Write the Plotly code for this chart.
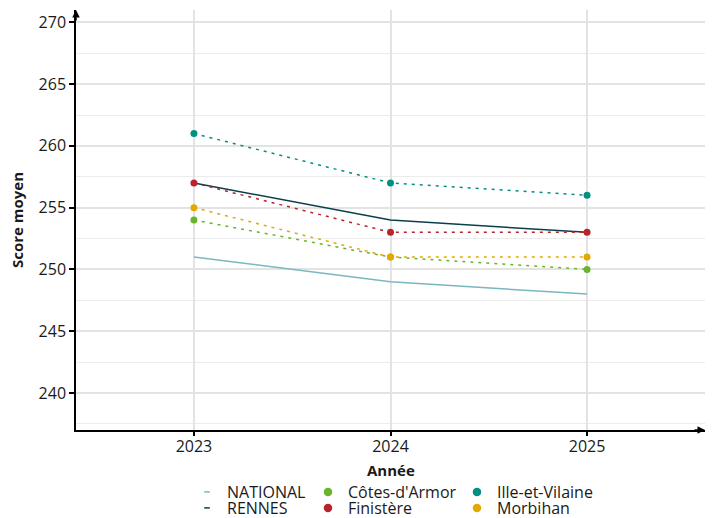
import plotly.graph_objects as go

years = [2023, 2024, 2025]
national = [251, 249, 248]
rennes = [257, 254, 253]
cotes_armor = [254, 251, 250]
finistere = [257, 253, 253]
ille_vilaine = [261, 257, 256]
morbihan = [255, 251, 251]

FONT = "Open Sans"
fig = go.Figure()

# (name, values, colour, dash, markers)
series = [
    ("NATIONAL", national, "#7ab7c0", "solid", False),
    ("RENNES", rennes, "#0a3f4c", "solid", False),
    ("Côtes-d'Armor", cotes_armor, "#6ab42d", "3px,5px", True),
    ("Finistère", finistere, "#b5252b", "3px,5px", True),
    ("Ille-et-Vilaine", ille_vilaine, "#009081", "3px,5px", True),
    ("Morbihan", morbihan, "#e4a900", "3px,5px", True),
]

for name, vals, col, dash, mk in series:
    fig.add_trace(go.Scatter(
        x=years, y=vals, name=name, legendgroup=name,
        mode="lines+markers" if mk else "lines",
        line=dict(color=col, width=1.5, dash=dash),
        marker=dict(color=col, size=7),
        showlegend=False, hoverinfo="x+y+name",
    ))

# legend laid out in 3 columns x 2 rows (column-major like the reference)
col_left_px = [187, 308, 457]
row_top_px = [475, 491]
legend_layouts = {}
for i, (name, vals, col, dash, mk) in enumerate(series):
    key = "legend" if i == 0 else f"legend{i + 1}"
    c, r = divmod(i, 2)
    legend_layouts[key] = dict(
        orientation="h", xref="container", yref="container",
        x=col_left_px[c] / 720, y=1 - row_top_px[r] / 518,
        xanchor="left", yanchor="top", itemwidth=30,
        font=dict(family=FONT, size=16, color="#1a1a1a"),
        bgcolor="rgba(0,0,0,0)")
    fig.add_trace(go.Scatter(
        x=[None], y=[None], name=name, legendgroup=name, legend=key,
        mode="markers",
        marker=dict(color=col, size=7 if mk else 4,
                    symbol="circle" if mk else "line-ew-open",
                    line=dict(color=col, width=1.5)),
        showlegend=True,
    ))

fig.update_layout(
    width=720, height=518,
    margin=dict(l=76, r=15, t=10, b=88),
    paper_bgcolor="white", plot_bgcolor="white",
    font=dict(family=FONT, size=14, color="#1a1a1a"),
    showlegend=True,
    **legend_layouts,
    xaxis=dict(
        range=[2022.4, 2025.6], tickmode="array", tickvals=years,
        ticktext=[str(y) for y in years], automargin=False,
        showgrid=True, gridcolor="#e3e3e3", gridwidth=1.5,
        showline=True, linecolor="black", linewidth=1.5,
        ticks="outside", ticklen=4, tickcolor="black", tickwidth=1.5,
        ticklabelstandoff=-3,
        zeroline=False, tickfont=dict(size=16),
    ),
    yaxis=dict(
        range=[237, 271], tickmode="linear", tick0=240, dtick=5, automargin=False,
        showgrid=True, gridcolor="#e3e3e3", gridwidth=1.5,
        minor=dict(dtick=2.5, tick0=237.5, showgrid=True, gridcolor="#ececec", gridwidth=1.2),
        showline=True, linecolor="black", linewidth=1.5,
        ticks="outside", ticklen=5, tickcolor="black", tickwidth=1.5,
        zeroline=False, tickfont=dict(size=16),
        title=dict(text="<b>Score moyen</b>", font=dict(family=FONT, size=15), standoff=11),
    ),
)

# x-axis title
fig.add_annotation(x=0.5, y=(430 - 470) / 420, xref="paper", yref="paper",
                   text="<b>Année</b>", showarrow=False, xanchor="center",
                   yanchor="middle", font=dict(family=FONT, size=15, color="#1a1a1a"))

# axis arrowheads
fig.add_annotation(x=0, y=1, xref="paper", yref="paper", ax=0, ay=12,
                   showarrow=True, arrowhead=2, arrowsize=1, arrowwidth=1.5,
                   arrowcolor="black", text="")
fig.add_annotation(x=1, y=0, xref="paper", yref="paper", ax=-12, ay=0,
                   showarrow=True, arrowhead=2, arrowsize=1, arrowwidth=1.5,
                   arrowcolor="black", text="")

fig.write_html("out.html", config={"displayModeBar": False},
               post_script="document.body.style.margin='0';")
